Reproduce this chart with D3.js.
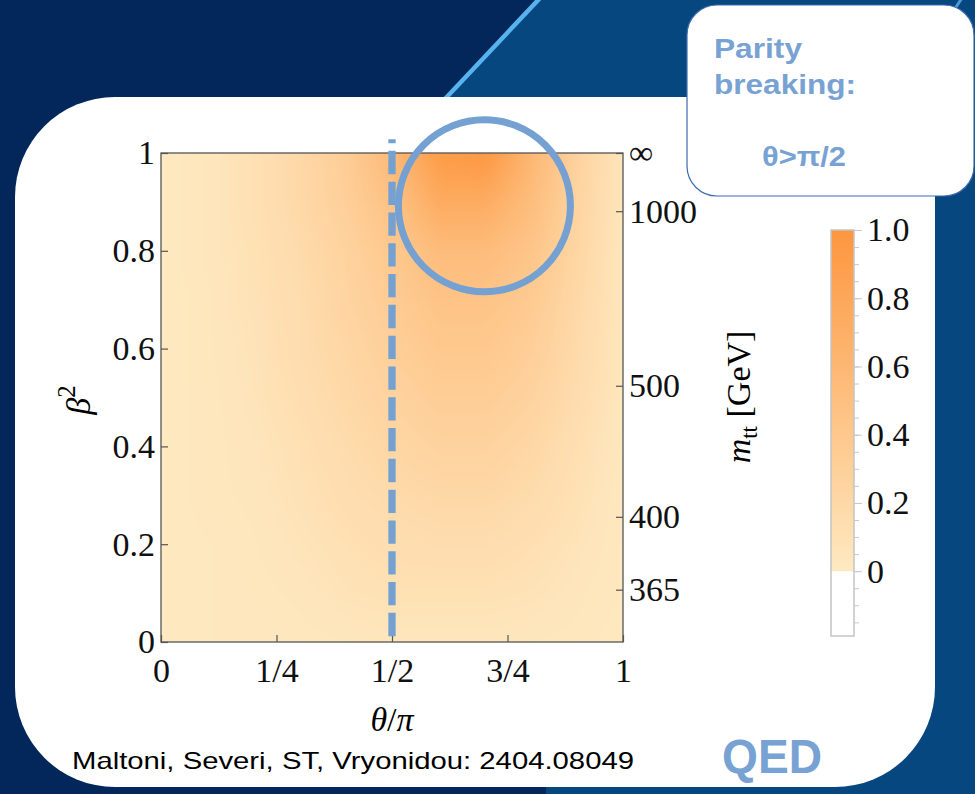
<!DOCTYPE html>
<html>
<head>
<meta charset="utf-8">
<script src="https://cdn.jsdelivr.net/npm/d3@7"></script>
<style>
html, body { margin: 0; padding: 0; background: #03275a; }
svg { display: block; }
</style>
</head>
<body>
<div id="chart"></div>
<script>
// heat map: columns theta/pi, rows beta^2 (top row = 1)
const thetaCols = [0, 0.1, 0.2, 0.3, 0.4, 0.5, 0.6, 0.7, 0.8, 0.9, 1];
const beta2Rows = [1, 0.9, 0.8, 0.7, 0.6, 0.5, 0.4, 0.3, 0.2, 0.1, 0];
const heatRows = [
  [0.00, 0.04, 0.10, 0.20, 0.34, 0.58, 0.93, 0.97, 0.60, 0.26, 0.04],
  [0.00, 0.04, 0.10, 0.19, 0.31, 0.47, 0.74, 0.72, 0.52, 0.24, 0.04],
  [0.00, 0.04, 0.09, 0.17, 0.27, 0.39, 0.53, 0.53, 0.42, 0.22, 0.03],
  [0.00, 0.03, 0.08, 0.15, 0.25, 0.35, 0.45, 0.45, 0.36, 0.19, 0.03],
  [0.00, 0.03, 0.07, 0.14, 0.22, 0.31, 0.39, 0.39, 0.31, 0.17, 0.03],
  [0.00, 0.02, 0.06, 0.12, 0.19, 0.26, 0.32, 0.32, 0.26, 0.14, 0.02],
  [0.00, 0.02, 0.05, 0.10, 0.16, 0.22, 0.26, 0.26, 0.21, 0.11, 0.02],
  [0.00, 0.02, 0.04, 0.08, 0.13, 0.17, 0.20, 0.20, 0.16, 0.09, 0.01],
  [0.00, 0.01, 0.03, 0.06, 0.10, 0.13, 0.14, 0.14, 0.11, 0.06, 0.01],
  [0.00, 0.01, 0.02, 0.04, 0.07, 0.09, 0.09, 0.09, 0.07, 0.04, 0.01],
  [0.00, 0.01, 0.01, 0.02, 0.03, 0.04, 0.04, 0.04, 0.03, 0.02, 0.00]
];

// axes
const leftTicks = [0, 0.2, 0.4, 0.6, 0.8, 1];
const leftLabels = ["0", "0.2", "0.4", "0.6", "0.8", "1"];
const bottomTicks = [0, 0.25, 0.5, 0.75, 1];
const bottomLabels = ["0", "1/4", "1/2", "3/4", "1"];
const mttLabels = ["365", "400", "500", "1000", "\u221e"];
const mttBeta2 = [0.107, 0.256, 0.524, 0.881, 1];
const cbTicks = [1.0, 0.8, 0.6, 0.4, 0.2, 0];
const cbLabels = ["1.0", "0.8", "0.6", "0.4", "0.2", "0"];

// annotations
const dashTheta = 0.5;
const dashBeta2 = [0.012, 1.028];
const ringCenter = [0.70, 0.892];
const boxLines = ["Parity", "breaking:", "\u03b8>\u03c0/2"];
const citation = "Maltoni, Severi, ST, Vryonidou: 2404.08049";

const W = 975, H = 794;
const serif = '"Liberation Serif", "Times New Roman", serif';
const sans = '"Liberation Sans", Arial, sans-serif';
const accent = "#74a0d2";
const fs = 34;

const svg = d3.select("#chart").append("svg")
  .attr("width", W)
  .attr("height", H);

const defs = svg.append("defs");

// background
svg.append("rect").attr("width", W).attr("height", H).attr("fill", "#03275a");
svg.append("polygon")
  .attr("points", "540,0 975,0 975,794 546,794 546,600 444,98")
  .attr("fill", "#07477f");
svg.append("line")
  .attr("x1", 541).attr("y1", -3).attr("x2", 444).attr("y2", 100)
  .attr("stroke", "#58b2ee").attr("stroke-width", 4.5);
svg.append("line")
  .attr("x1", 962).attr("y1", -2).attr("x2", 946).attr("y2", 22)
  .attr("stroke", "#4a9ad8").attr("stroke-width", 3);

// white panel
svg.append("rect")
  .attr("x", 15).attr("y", 97)
  .attr("width", 920).attr("height", 690)
  .attr("rx", 100).attr("ry", 100)
  .attr("fill", "#fff");

const x = d3.scaleLinear().domain([0, 1]).range([161, 623]);
const y = d3.scaleLinear().domain([0, 1]).range([642, 153]);
const color = d3.scaleLinear().domain([0, 1]).range(["#fee9c1", "#fd963f"]);

// heat map drawn into a tiny canvas, then stretched (smoothly) over the plot
const canvas = document.createElement("canvas");
canvas.width = thetaCols.length;
canvas.height = beta2Rows.length;
const ctx = canvas.getContext("2d");
heatRows.forEach((row, j) => {
  row.forEach((v, i) => {
    ctx.fillStyle = color(v);
    ctx.fillRect(i, j, 1, 1);
  });
});

defs.append("clipPath").attr("id", "plotClip")
  .append("rect")
  .attr("x", x(0)).attr("y", y(1))
  .attr("width", x(1) - x(0)).attr("height", y(0) - y(1));

defs.append("filter").attr("id", "soft")
  .append("feGaussianBlur").attr("stdDeviation", 5);

const hx = (thetaCols[1] - thetaCols[0]) / 2;
const hy = (beta2Rows[0] - beta2Rows[1]) / 2;
svg.append("g").attr("clip-path", "url(#plotClip)")
  .append("image")
  .attr("href", canvas.toDataURL())
  .attr("x", x(thetaCols[0] - hx))
  .attr("y", y(beta2Rows[0] + hy))
  .attr("width", x(1 + hx) - x(-hx))
  .attr("height", y(-hy) - y(1 + hy))
  .attr("preserveAspectRatio", "none")
  .attr("filter", "url(#soft)");

// frame
svg.append("rect")
  .attr("x", x(0)).attr("y", y(1))
  .attr("width", x(1) - x(0)).attr("height", y(0) - y(1))
  .attr("fill", "none").attr("stroke", "#555").attr("stroke-width", 1.3);

function styleAxis(g) {
  g.select(".domain").remove();
  g.attr("font-family", serif).attr("font-size", fs);
  g.selectAll(".tick line").attr("stroke", "#555").attr("stroke-width", 1.2);
  g.selectAll(".tick text").attr("fill", "#111");
}

svg.append("g")
  .attr("transform", `translate(${x(0)},0)`)
  .call(d3.axisLeft(y).tickValues(leftTicks)
    .tickFormat((d, i) => leftLabels[i])
    .tickSizeInner(-7).tickSizeOuter(0).tickPadding(6))
  .call(styleAxis);

svg.append("g")
  .attr("transform", `translate(0,${y(0)})`)
  .call(d3.axisBottom(x).tickValues(bottomTicks)
    .tickFormat((d, i) => bottomLabels[i])
    .tickSizeInner(-7).tickSizeOuter(0).tickPadding(16))
  .call(styleAxis);

svg.append("g")
  .attr("transform", `translate(${x(1)},0)`)
  .call(d3.axisRight(y).tickValues(mttBeta2)
    .tickFormat((d, i) => mttLabels[i])
    .tickSizeInner(-7).tickSizeOuter(0).tickPadding(6))
  .call(styleAxis);

// axis titles
svg.append("text")
  .attr("x", x(0.5)).attr("y", 731)
  .attr("text-anchor", "middle")
  .attr("font-family", serif).attr("font-size", fs)
  .call(t => {
    t.append("tspan").attr("font-style", "italic").text("\u03b8");
    t.append("tspan").text("/");
    t.append("tspan").attr("font-style", "italic").text("\u03c0");
  });

svg.append("text")
  .attr("transform", "translate(90,400) rotate(-90)")
  .attr("text-anchor", "middle")
  .attr("font-family", serif).attr("font-size", fs)
  .call(t => {
    t.append("tspan").attr("font-style", "italic").text("\u03b2");
    t.append("tspan").attr("dy", -15).attr("font-size", 25).text("2");
  });

svg.append("text")
  .attr("transform", "translate(750,397) rotate(-90)")
  .attr("text-anchor", "middle")
  .attr("font-family", serif).attr("font-size", fs)
  .call(t => {
    t.append("tspan").attr("font-style", "italic").text("m");
    t.append("tspan").attr("dy", 7).attr("font-size", 23).text("tt");
    t.append("tspan").attr("dy", -7).text(" [GeV]");
  });

// colour bar
const cb = d3.scaleLinear().domain([-0.19, 1]).range([636, 230]);
const cbX = 831, cbW = 23;
const grad = defs.append("linearGradient").attr("id", "cbGrad")
  .attr("x1", 0).attr("y1", 1).attr("x2", 0).attr("y2", 0);
d3.range(0, 1.0001, 0.1).forEach(t => {
  grad.append("stop").attr("offset", t).attr("stop-color", color(t));
});
svg.append("rect")
  .attr("x", cbX).attr("y", cb(1))
  .attr("width", cbW).attr("height", cb(0) - cb(1))
  .attr("fill", "url(#cbGrad)");
svg.append("rect")
  .attr("x", cbX).attr("y", cb(1))
  .attr("width", cbW).attr("height", cb(-0.19) - cb(1))
  .attr("fill", "none").attr("stroke", "#c4c4c4").attr("stroke-width", 1.5);

svg.append("g")
  .attr("transform", `translate(${cbX + cbW},0)`)
  .call(d3.axisRight(cb).tickValues(d3.range(-0.15, 1.001, 0.05))
    .tickFormat("").tickSizeInner(5).tickSizeOuter(0))
  .call(g => {
    g.select(".domain").remove();
    g.selectAll(".tick line").attr("stroke", "#c8c8c8");
  });

svg.append("g")
  .attr("transform", `translate(${cbX + cbW},0)`)
  .call(d3.axisRight(cb).tickValues(cbTicks)
    .tickFormat((d, i) => cbLabels[i])
    .tickSizeInner(8).tickSizeOuter(0).tickPadding(5))
  .call(g => {
    g.select(".domain").remove();
    g.attr("font-family", serif).attr("font-size", fs);
    g.selectAll(".tick line").attr("stroke", "#c8c8c8");
    g.selectAll(".tick text").attr("fill", "#111");
  });

// dashed theta = pi/2 line and the ring
svg.append("line")
  .attr("x1", x(dashTheta)).attr("y1", y(dashBeta2[0]))
  .attr("x2", x(dashTheta)).attr("y2", y(dashBeta2[1]))
  .attr("stroke", accent).attr("stroke-width", 7.3)
  .attr("stroke-dasharray", "23.3 7.5");

svg.append("circle")
  .attr("cx", x(ringCenter[0])).attr("cy", y(ringCenter[1]))
  .attr("r", 86)
  .attr("fill", "none").attr("stroke", accent).attr("stroke-width", 7);

// parity breaking box
svg.append("rect")
  .attr("x", 687).attr("y", 5)
  .attr("width", 287).attr("height", 191)
  .attr("rx", 30).attr("ry", 30)
  .attr("fill", "#fff").attr("stroke", "#3d6cae").attr("stroke-width", 1.2);

const boxPos = [[714, 58, 88], [714, 94, 142], [762, 166, 84]];
svg.selectAll(".boxline")
  .data(boxLines)
  .enter()
  .append("text")
  .attr("class", "boxline")
  .attr("x", (d, i) => boxPos[i][0])
  .attr("y", (d, i) => boxPos[i][1])
  .attr("textLength", (d, i) => boxPos[i][2])
  .attr("lengthAdjust", "spacingAndGlyphs")
  .attr("font-family", sans).attr("font-weight", "bold").attr("font-size", 28)
  .attr("fill", "#78a2d3")
  .text(d => d);

// footer texts
svg.append("text")
  .attr("x", 72).attr("y", 769)
  .attr("textLength", 562).attr("lengthAdjust", "spacingAndGlyphs")
  .attr("font-family", sans).attr("font-size", 24)
  .attr("fill", "#000")
  .text(citation);

svg.append("text")
  .attr("x", 722).attr("y", 773)
  .attr("textLength", 100).attr("lengthAdjust", "spacingAndGlyphs")
  .attr("font-family", sans).attr("font-weight", "bold").attr("font-size", 48)
  .attr("fill", "#78a2d3")
  .text("QED");
</script>
</body>
</html>
